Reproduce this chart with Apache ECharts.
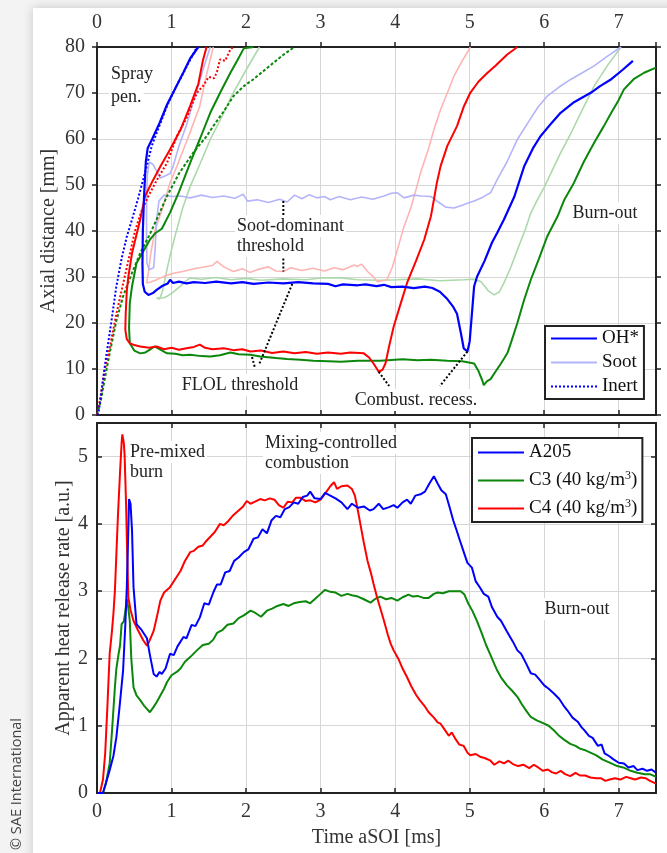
<!DOCTYPE html>
<html><head><meta charset="utf-8">
<script src="https://cdn.jsdelivr.net/npm/echarts@6/dist/echarts.min.js"></script>
<style>html,body{margin:0;padding:0;background:#f3f3f3;}#c{width:667px;height:853px;}</style>
</head><body><div id="c"></div>
<script>
// ---------------- DATA ----------------
// Top panel: axial distance [mm] vs time aSOI [ms]
const xTicks = [0,1,2,3,4,5,6,7];
const inertA205 = [[0,0],[0.02,0.5],[0.06,5],[0.1,10],[0.13,13.5],[0.19,20],[0.26,28],[0.33,34],[0.4,38.8],[0.47,42.5],[0.55,47],[0.645,52.7],[0.735,58.5],[0.84,63],[0.94,67.2],[1.05,71],[1.16,74.4],[1.25,77.2],[1.34,80]];
const inertC4 = [[0,0],[0.04,3.3],[0.1,9.5],[0.175,15],[0.26,22],[0.35,28.5],[0.44,35],[0.51,40],[0.6,44.5],[0.69,47.6],[0.8,51],[0.94,54.8],[1.07,60.6],[1.2,64.5],[1.3,68.5],[1.34,70],[1.42,71.5],[1.5,73.5],[1.57,73.2],[1.61,74.6],[1.65,77.3],[1.72,77],[1.79,79.5],[1.83,80]];
const inertC3 = [[0,0],[0.05,3],[0.1,7.5],[0.17,13.4],[0.26,20.5],[0.35,25.8],[0.46,30.5],[0.58,35.2],[0.7,39],[0.8,42.5],[0.94,47.6],[1.1,52.5],[1.29,57],[1.47,60.6],[1.56,62.8],[1.7,66],[1.83,69.3],[1.97,71.5],[2.1,73],[2.25,75],[2.37,76.6],[2.5,78.3],[2.64,79.9]];
const ohA205 = [[1.36,80],[1.25,77.5],[1.16,74.5],[1.05,71],[0.94,67.5],[0.84,63.5],[0.74,60],[0.68,58],[0.655,55],[0.645,52],[0.63,47],[0.615,40],[0.61,33],[0.615,28.5],[0.64,26.8],[0.69,26.1],[0.75,26.5],[0.8,27.2],[0.88,28.1],[0.95,28.6],[0.98,29.4],[1.02,28.7],[1.1,29],[1.2,28.6],[1.3,28.9],[1.45,28.7],[1.6,29],[1.8,28.6],[1.95,28.9],[2.1,28.5],[2.3,28.8],[2.5,28.6],[2.7,28.9],[2.9,28.6],[3.1,28.5],[3.2,28.0],[3.3,28.4],[3.5,28.2],[3.6,28.4],[3.75,28.0],[3.85,28.3],[3.95,27.8],[4.1,27.9],[4.25,27.6],[4.4,27.9],[4.5,27.6],[4.6,26.8],[4.7,25.2],[4.78,23.5],[4.83,22],[4.88,18],[4.92,14.5],[4.97,13.8],[5.0,16],[5.04,24],[5.06,28],[5.1,30.1],[5.2,33.5],[5.3,37.5],[5.37,39.6],[5.46,42.5],[5.6,47.5],[5.73,54],[5.85,58],[5.95,60.6],[6.1,63.5],[6.22,65.7],[6.4,68],[6.63,70.1],[6.75,71.5],[6.9,73],[7.05,75],[7.19,77]];
const ohC4 = [[1.47,80],[1.42,77],[1.36,72],[1.25,67.2],[1.12,62],[0.98,57.7],[0.85,54],[0.75,51],[0.645,47.6],[0.58,42.5],[0.47,35.2],[0.42,30],[0.40,27],[0.385,22],[0.38,18.5],[0.4,16.5],[0.44,15.6],[0.5,15.2],[0.58,14.9],[0.7,14.6],[0.8,14.9],[0.9,14.3],[1.0,14.6],[1.1,14.2],[1.2,14.5],[1.3,14.8],[1.38,15.3],[1.45,14.6],[1.55,14.3],[1.7,14.5],[1.83,14.1],[1.95,14.3],[2.06,13.8],[2.2,14.0],[2.35,13.5],[2.5,13.8],[2.65,13.4],[2.8,13.7],[2.95,13.3],[3.1,13.6],[3.27,13.3],[3.4,13.6],[3.58,13.4],[3.65,12.5],[3.71,11.2],[3.78,9.4],[3.83,9.8],[3.87,11.2],[3.92,15],[3.98,19.2],[4.07,24],[4.16,28.7],[4.28,33.5],[4.39,38.1],[4.48,43.2],[4.52,46.8],[4.56,50.5],[4.61,54.1],[4.7,58.5],[4.83,62.8],[4.92,67],[5.01,70.1],[5.12,72.5],[5.24,74.4],[5.35,76],[5.5,78.3],[5.64,80]];
const ohC3 = [[2.1,80],[1.97,79.7],[1.88,77],[1.79,74.4],[1.65,70],[1.52,65.7],[1.38,60],[1.25,54.8],[1.1,48.5],[0.98,44],[0.87,40.5],[0.78,39.5],[0.71,38.1],[0.6,35],[0.53,33],[0.47,28],[0.44,24.3],[0.43,19],[0.44,15.6],[0.5,14],[0.58,13.4],[0.65,13.6],[0.71,14.2],[0.77,14.9],[0.85,14.2],[0.94,13.4],[1.05,13.3],[1.15,13.0],[1.25,13.1],[1.4,12.8],[1.52,12.7],[1.65,13.0],[1.79,13.6],[1.9,13.2],[2.06,13.1],[2.19,12.7],[2.4,12.4],[2.55,12.2],[2.73,12.0],[2.9,11.8],[3.1,11.7],[3.27,11.6],[3.5,11.8],[3.8,11.8],[4.1,12.1],[4.3,11.9],[4.48,12.0],[4.7,11.8],[4.9,11.7],[5.06,11.2],[5.12,9.5],[5.17,7.5],[5.19,6.5],[5.23,7.3],[5.28,7.8],[5.35,9.5],[5.42,11.2],[5.47,12.5],[5.51,13.6],[5.56,16],[5.64,20],[5.73,25],[5.82,29.4],[5.93,34],[6.04,38.8],[6.18,43.2],[6.27,46.8],[6.4,50.5],[6.53,55],[6.67,59.2],[6.8,62.8],[6.9,65.7],[7.0,68.5],[7.07,70.8],[7.2,73],[7.34,74.4],[7.5,75.5]];
const sootA205 = [[1.52,80],[1.42,75],[1.35,71],[1.29,68],[1.2,63],[1.1,58.5],[1.02,54],[0.98,52.5],[0.92,52],[0.85,51.5],[0.8,53],[0.75,54.5],[0.7,55],[0.675,52],[0.665,45],[0.665,38],[0.67,33],[0.7,31.6],[0.76,32],[0.78,36],[0.8,42.5],[0.83,46.5],[0.9,47.8],[1.0,47.5],[1.12,47.6],[1.25,47.2],[1.4,47.8],[1.55,47.3],[1.7,47.6],[1.85,47.1],[1.96,48],[2.02,46.5],[2.15,46.8],[2.3,46.2],[2.45,46.9],[2.55,46.3],[2.65,47.8],[2.75,47.0],[2.85,47.9],[2.95,47.2],[3.05,47.5],[3.13,46.8],[3.25,47.5],[3.4,46.8],[3.55,47.4],[3.7,46.9],[3.85,47.6],[3.95,48.2],[4.03,48.3],[4.12,47.2],[4.25,47.8],[4.35,47.6],[4.48,47.5],[4.58,46.3],[4.68,45.2],[4.79,45],[4.9,45.6],[5.0,46.2],[5.06,46.5],[5.17,47.3],[5.28,48.3],[5.38,51.5],[5.5,55],[5.64,59.9],[5.8,64],[5.92,67],[6.04,69.3],[6.2,71.3],[6.36,73],[6.5,74.3],[6.67,75.9],[6.85,78],[7.03,80]];
const sootC4 = [[1.56,80],[1.47,74],[1.38,67.2],[1.25,61.5],[1.16,57.7],[1.07,54],[0.98,50.5],[0.88,45],[0.78,40.3],[0.72,35],[0.69,31],[0.667,28.7],[0.72,28.9],[0.8,29.4],[0.92,30.3],[1.03,30.8],[1.15,31.2],[1.3,31.8],[1.47,32.3],[1.55,32.5],[1.61,33.4],[1.7,32.2],[1.83,31.2],[1.95,31.8],[2.05,31.0],[2.15,31.6],[2.3,32.2],[2.4,31.3],[2.5,31.2],[2.6,32.0],[2.75,31.4],[2.9,31.9],[3.05,31.3],[3.18,32],[3.3,31.6],[3.45,32.6],[3.49,32.3],[3.55,32.8],[3.63,31.2],[3.7,30.2],[3.76,29],[3.83,29.2],[3.89,29.4],[3.96,32],[4.03,35.9],[4.12,41],[4.21,45],[4.28,49],[4.34,52.6],[4.45,58],[4.52,62],[4.61,66.4],[4.7,70],[4.79,73.7],[4.9,77],[5.01,80]];
const sootC3 = [[2.18,80],[2.0,75],[1.83,70.1],[1.68,65],[1.52,59.9],[1.38,54.5],[1.25,49.7],[1.15,45],[1.07,40.3],[1.0,36],[0.93,31],[0.88,27],[0.84,25.2],[0.8,25.4],[0.9,25.5],[0.94,25.8],[1.03,26.8],[1.12,28],[1.2,29.2],[1.25,29.8],[1.4,29.5],[1.6,29.9],[1.8,29.4],[2.0,29.7],[2.2,29.3],[2.5,29.6],[2.8,29.4],[3.0,29.8],[3.27,29.8],[3.5,29.4],[3.8,29.3],[4.03,29.4],[4.3,29.6],[4.6,29.2],[4.92,29.4],[5.05,29.5],[5.15,29],[5.25,27],[5.33,26.1],[5.4,26.8],[5.46,28.7],[5.55,32],[5.64,35.9],[5.75,40.5],[5.82,43.9],[5.91,46.8],[6.0,49.5],[6.09,52.6],[6.22,57],[6.36,61.3],[6.5,66],[6.67,71.5],[6.85,76],[7.03,80]];
// annotation pointer lines (data coords)
const annSootUp = [[2.5,46.5],[2.5,42.5]];
const annSootDown = [[2.5,34],[2.5,31.2]];
const annFlolA = [[2.62,28.5],[2.18,11.2]];
const annFlolB = [[2.08,12.6],[2.12,10.2]];
const annRecA = [[3.78,9.4],[3.92,6.3]];
const annRecB = [[4.97,13.8],[4.6,6.3]];

// Bottom panel: apparent heat release rate [a.u.]
const hrrA205 = [[0,0],[0.08,0],[0.12,0.15],[0.17,0.34],[0.22,0.55],[0.26,0.83],[0.3,1.25],[0.35,1.82],[0.38,2.5],[0.40,3.06],[0.42,3.9],[0.43,4.37],[0.45,4.3],[0.47,3.9],[0.49,3.06],[0.53,2.51],[0.6,2.42],[0.67,2.3],[0.71,2.05],[0.76,1.77],[0.8,1.73],[0.84,1.8],[0.87,1.77],[0.92,1.85],[0.98,2.07],[1.03,2.05],[1.08,2.18],[1.16,2.32],[1.2,2.3],[1.27,2.5],[1.32,2.48],[1.38,2.61],[1.44,2.82],[1.5,2.8],[1.56,2.98],[1.61,3.1],[1.66,3.1],[1.72,3.28],[1.78,3.3],[1.84,3.45],[1.9,3.5],[1.97,3.58],[2.03,3.62],[2.1,3.78],[2.16,3.8],[2.22,3.92],[2.28,3.86],[2.34,4.05],[2.4,4.12],[2.46,4.1],[2.52,4.22],[2.58,4.25],[2.64,4.32],[2.7,4.3],[2.76,4.4],[2.82,4.42],[2.86,4.48],[2.92,4.38],[3.0,4.37],[3.06,4.46],[3.13,4.42],[3.2,4.38],[3.28,4.32],[3.36,4.22],[3.42,4.3],[3.5,4.24],[3.58,4.26],[3.66,4.2],[3.71,4.22],[3.78,4.3],[3.84,4.22],[3.92,4.25],[3.98,4.28],[4.03,4.24],[4.1,4.32],[4.16,4.36],[4.21,4.3],[4.27,4.42],[4.34,4.44],[4.4,4.48],[4.46,4.6],[4.52,4.71],[4.57,4.6],[4.62,4.5],[4.68,4.44],[4.73,4.25],[4.78,4.05],[4.82,3.92],[4.87,3.75],[4.93,3.55],[4.97,3.42],[5.03,3.35],[5.08,3.15],[5.14,3.05],[5.19,2.96],[5.25,2.92],[5.3,2.76],[5.37,2.62],[5.42,2.56],[5.5,2.4],[5.58,2.25],[5.64,2.12],[5.69,2.07],[5.76,1.92],[5.82,1.78],[5.88,1.76],[5.94,1.68],[6.0,1.6],[6.06,1.55],[6.13,1.48],[6.2,1.4],[6.26,1.3],[6.31,1.23],[6.38,1.12],[6.45,1.06],[6.5,0.98],[6.54,0.93],[6.6,0.85],[6.65,0.82],[6.72,0.7],[6.77,0.72],[6.81,0.59],[6.87,0.55],[6.93,0.5],[7.0,0.45],[7.07,0.44],[7.13,0.38],[7.2,0.4],[7.25,0.34],[7.32,0.36],[7.38,0.33],[7.44,0.35],[7.5,0.3]];
const hrrC3 = [[0,0],[0.08,0],[0.12,0.15],[0.17,0.44],[0.2,0.9],[0.24,1.57],[0.26,1.85],[0.29,2.07],[0.31,2.2],[0.33,2.51],[0.36,2.55],[0.38,2.7],[0.40,2.88],[0.42,2.75],[0.44,2.56],[0.46,2.0],[0.49,1.57],[0.53,1.45],[0.58,1.38],[0.63,1.3],[0.67,1.25],[0.71,1.2],[0.76,1.28],[0.8,1.35],[0.85,1.45],[0.9,1.55],[0.94,1.65],[1.0,1.75],[1.07,1.8],[1.12,1.85],[1.18,1.95],[1.25,2.02],[1.34,2.12],[1.42,2.2],[1.5,2.22],[1.56,2.28],[1.61,2.38],[1.68,2.42],[1.75,2.5],[1.83,2.52],[1.9,2.6],[1.97,2.64],[2.06,2.71],[2.12,2.68],[2.2,2.62],[2.28,2.71],[2.35,2.74],[2.42,2.78],[2.5,2.81],[2.57,2.78],[2.64,2.82],[2.72,2.84],[2.8,2.85],[2.86,2.82],[2.92,2.88],[3.0,2.96],[3.06,3.02],[3.13,2.99],[3.2,2.98],[3.28,2.93],[3.36,2.96],[3.42,2.94],[3.5,2.92],[3.58,2.88],[3.67,2.83],[3.74,2.89],[3.8,2.92],[3.88,2.88],[3.95,2.9],[4.03,2.86],[4.1,2.91],[4.18,2.95],[4.24,2.92],[4.3,2.93],[4.38,2.9],[4.45,2.9],[4.52,2.96],[4.57,2.98],[4.64,2.97],[4.72,3.0],[4.8,3.0],[4.88,3.0],[4.93,2.95],[4.98,2.82],[5.04,2.7],[5.1,2.55],[5.16,2.38],[5.22,2.2],[5.28,2.05],[5.33,1.92],[5.37,1.82],[5.42,1.72],[5.5,1.6],[5.57,1.52],[5.64,1.43],[5.7,1.32],[5.76,1.22],[5.82,1.13],[5.9,1.08],[6.0,1.03],[6.06,1.0],[6.14,0.92],[6.2,0.85],[6.27,0.79],[6.35,0.73],[6.42,0.7],[6.48,0.66],[6.54,0.64],[6.62,0.6],[6.7,0.56],[6.78,0.5],[6.84,0.47],[6.9,0.44],[6.98,0.4],[7.06,0.38],[7.16,0.33],[7.25,0.3],[7.35,0.28],[7.42,0.28],[7.5,0.24]];
const hrrC4 = [[0,0],[0.04,0],[0.08,0.2],[0.11,0.59],[0.14,1.3],[0.17,2.07],[0.2,2.4],[0.22,2.66],[0.24,3.0],[0.26,3.55],[0.28,4.1],[0.31,4.79],[0.33,5.2],[0.34,5.33],[0.36,5.2],[0.37,5.03],[0.39,4.3],[0.40,3.8],[0.42,2.91],[0.45,2.72],[0.49,2.56],[0.55,2.42],[0.62,2.27],[0.67,2.19],[0.7,2.25],[0.76,2.41],[0.8,2.6],[0.85,2.86],[0.9,2.98],[0.98,3.06],[1.05,3.18],[1.12,3.3],[1.18,3.45],[1.25,3.58],[1.3,3.6],[1.36,3.66],[1.42,3.68],[1.47,3.75],[1.53,3.82],[1.58,3.88],[1.65,4.0],[1.7,3.98],[1.76,4.04],[1.82,4.12],[1.9,4.2],[1.96,4.26],[2.01,4.34],[2.06,4.3],[2.12,4.33],[2.19,4.37],[2.25,4.35],[2.32,4.38],[2.38,4.36],[2.44,4.28],[2.5,4.24],[2.56,4.33],[2.62,4.32],[2.67,4.39],[2.73,4.39],[2.8,4.34],[2.86,4.35],[2.93,4.32],[3.0,4.36],[3.06,4.45],[3.13,4.56],[3.18,4.62],[3.22,4.52],[3.28,4.56],[3.36,4.57],[3.42,4.52],[3.46,4.42],[3.5,4.2],[3.54,3.96],[3.58,3.72],[3.63,3.45],[3.68,3.25],[3.71,3.11],[3.76,2.9],[3.8,2.75],[3.85,2.56],[3.9,2.36],[3.94,2.22],[3.98,2.12],[4.05,1.98],[4.1,1.85],[4.16,1.72],[4.22,1.58],[4.28,1.46],[4.33,1.38],[4.39,1.3],[4.45,1.2],[4.52,1.12],[4.57,1.05],[4.61,1.03],[4.66,0.95],[4.72,0.85],[4.76,0.9],[4.8,0.82],[4.86,0.72],[4.92,0.7],[4.97,0.6],[5.01,0.56],[5.08,0.58],[5.14,0.54],[5.2,0.52],[5.28,0.48],[5.33,0.42],[5.4,0.47],[5.46,0.44],[5.52,0.48],[5.58,0.43],[5.65,0.4],[5.72,0.42],[5.8,0.37],[5.86,0.42],[5.92,0.38],[5.98,0.33],[6.05,0.35],[6.1,0.31],[6.16,0.29],[6.22,0.33],[6.28,0.28],[6.35,0.25],[6.42,0.3],[6.48,0.26],[6.55,0.26],[6.62,0.23],[6.7,0.22],[6.76,0.22],[6.82,0.18],[6.88,0.2],[6.95,0.22],[7.02,0.2],[7.1,0.24],[7.16,0.22],[7.22,0.2],[7.3,0.23],[7.36,0.22],[7.42,0.18],[7.5,0.14]];

// ---------------- CHART ----------------
const FONT = '"Liberation Serif","Times New Roman",serif';
const AX = '#222', GRID = '#d6d6d6', TXT = '#333';
const BLUE='#0000ff', GREEN='#0b870b', RED='#ff0000';
const LBLUE='#b4b4fa', LGREEN='#acd9ac', LRED='#ffb4b4';

const chart = echarts.init(document.getElementById('c'), null, {renderer:'canvas'});
const intFmt = v => (Math.abs(v - Math.round(v)) < 1e-9 ? String(Math.round(v)) : '');

function xAx(gi, pos, showLabel, inside, name, margin){
  return {type:'value', gridIndex:gi, position:pos, min:0, max:7.5, interval:1,
    axisLine:{show:true, onZero:false, lineStyle:{color:AX, width:2}},
    axisTick:{show:true, inside:inside, length:5, lineStyle:{color:AX, width:1.5}},
    axisLabel:{show:showLabel, formatter:intFmt, color:TXT, fontFamily:FONT, fontSize:20, margin:margin||8},
    splitLine:{show:showLabel, lineStyle:{color:GRID, width:1}},
    name:name||'', nameLocation:'middle', nameGap:35, nameMoveOverlap:false,
    nameTextStyle:{color:TXT, fontFamily:FONT, fontSize:20}};
}
function yAx(gi, pos, showLabel, inside, min, max, interval, name, gap, margin){
  return {type:'value', gridIndex:gi, position:pos, min:min, max:max, interval:interval,
    axisLine:{show:true, onZero:false, lineStyle:{color:AX, width:2}},
    axisTick:{show:true, inside:inside, length:5, lineStyle:{color:AX, width:1.5}},
    axisLabel:{show:showLabel, formatter:intFmt, color:TXT, fontFamily:FONT, fontSize:20, margin:margin||8},
    splitLine:{show:showLabel, lineStyle:{color:GRID, width:1}},
    name:name||'', nameLocation:'middle', nameGap:gap||30, nameMoveOverlap:false,
    nameTextStyle:{color:TXT, fontFamily:FONT, fontSize:20}};
}
function ser(name, data, color, width, type, xi, yi, z){
  return {name:name, type:'line', data:data, xAxisIndex:xi, yAxisIndex:yi, symbol:'none',
    showSymbol:false, smooth:false, animation:false, z:z||2, silent:true,
    lineStyle:{color:color, width:width, type:type||'solid'}, itemStyle:{color:color}};
}

const series = [
  ser('Soot C3', sootC3, LGREEN, 1.6, 'solid', 0, 0, 1),
  ser('Soot C4', sootC4, LRED, 1.6, 'solid', 0, 0, 1),
  ser('Soot', sootA205, LBLUE, 1.6, 'solid', 0, 0, 1),
  ser('Inert C3', inertC3, GREEN, 2, [3,2], 0, 0, 2),
  ser('Inert C4', inertC4, RED, 2, [2,2], 0, 0, 2),
  ser('OH* C3', ohC3, GREEN, 2, 'solid', 0, 0, 3),
  ser('OH* C4', ohC4, RED, 2, 'solid', 0, 0, 3),
  ser('Inert', inertA205, BLUE, 2, [2,2], 0, 0, 3),
  ser('OH*', ohA205, BLUE, 2.2, 'solid', 0, 0, 4),
  ser('ann1', annSootUp, '#000', 2, [2,2], 0, 0, 5),
  ser('ann2', annSootDown, '#000', 2, [2,2], 0, 0, 5),
  ser('ann3', annFlolA, '#000', 2, [2,2], 0, 0, 5),
  ser('ann4', annFlolB, '#000', 2, [2,2], 0, 0, 5),
  ser('ann5', annRecA, '#000', 2, [2,2], 0, 0, 5),
  ser('ann6', annRecB, '#000', 2, [2,2], 0, 0, 5),
  ser('C3 (40 kg/m3)', hrrC3, GREEN, 2, 'solid', 2, 2, 3),
  ser('C4 (40 kg/m3)', hrrC4, RED, 2, 'solid', 2, 2, 3),
  ser('A205', hrrA205, BLUE, 2, 'solid', 2, 2, 4)
];

function txt(text, x, y, align, size){
  return {type:'text', z:10, style:{text:text, x:x, y:y, fill:'#222', align:align||'left', verticalAlign:'middle',
    font: (size||18)+'px '+FONT, backgroundColor:'#fff', padding:[0,2], lineHeight:22}};
}

const option = {
  backgroundColor:'#f3f3f3',
  animation:false,
  grid:[
    {left:97, top:47, width:559, height:368, containLabel:false},
    {left:97, top:423, width:559, height:370, containLabel:false}
  ],
  xAxis:[
    xAx(0,'top',true,false,'',14),
    xAx(0,'bottom',false,true),
    xAx(1,'bottom',true,true,'Time aSOI [ms]',9),
    xAx(1,'top',false,true)
  ],
  yAxis:[
    yAx(0,'left',true,false,0,80,10,'Axial distance [mm]',38,12),
    yAx(0,'right',false,false,0,80,10),
    yAx(1,'left',true,true,0,5.5,1,'Apparent heat release rate [a.u.]',23,9),
    yAx(1,'right',false,true,0,5.5,1)
  ],
  legend:[
    {data:['OH*','Soot','Inert'], left:545, top:326, orient:'vertical', backgroundColor:'#fff',
     borderColor:'#222', borderWidth:2, padding:[3,5,3,5], itemGap:5, itemWidth:46, itemHeight:18,
     itemStyle:{opacity:0},
     textStyle:{fontFamily:FONT, fontSize:19, color:'#111'}, selectedMode:false},
    {data:['A205','C3 (40 kg/m3)','C4 (40 kg/m3)'], left:472, top:438, orient:'vertical', backgroundColor:'#fff',
     borderColor:'#222', borderWidth:2, padding:[5,5,4,5], itemGap:8, itemWidth:46, itemHeight:20,
     itemStyle:{opacity:0},
     formatter: n => n.replace('m3)', 'm{sup|3})'),
     textStyle:{fontFamily:FONT, fontSize:19, color:'#111', rich:{sup:{fontFamily:FONT, fontSize:12, verticalAlign:'top', padding:[0,0,9,0], color:'#111'}}},
     selectedMode:false}
  ],
  graphic:[
    {type:'rect', z:-10, shape:{x:33, y:8, width:660, height:870},
     style:{fill:'#fff', shadowBlur:10, shadowColor:'rgba(0,0,0,0.18)'}},
    {type:'text', z:10, x:17, y:784, rotation:Math.PI/2,
     style:{text:'© SAE International', fill:'#444', font:'14.5px "Open Sans", "Noto Sans", sans-serif', align:'center', verticalAlign:'middle'}},
    txt('Spray', 109, 74),
    txt('pen.', 109, 97),
    txt('Soot-dominant', 235, 226),
    txt('threshold', 235, 246),
    txt('FLOL threshold', 240, 385, 'center'),
    txt('Combust. recess.', 416, 400, 'center'),
    txt('Burn-out', 605, 213, 'center'),
    txt('Pre-mixed', 128, 452),
    txt('burn', 128, 472),
    txt('Mixing-controlled', 263, 443),
    txt('combustion', 263, 463),
    txt('Burn-out', 577, 609, 'center')
  ],
  series: series
};
chart.setOption(option);
</script></body></html>
